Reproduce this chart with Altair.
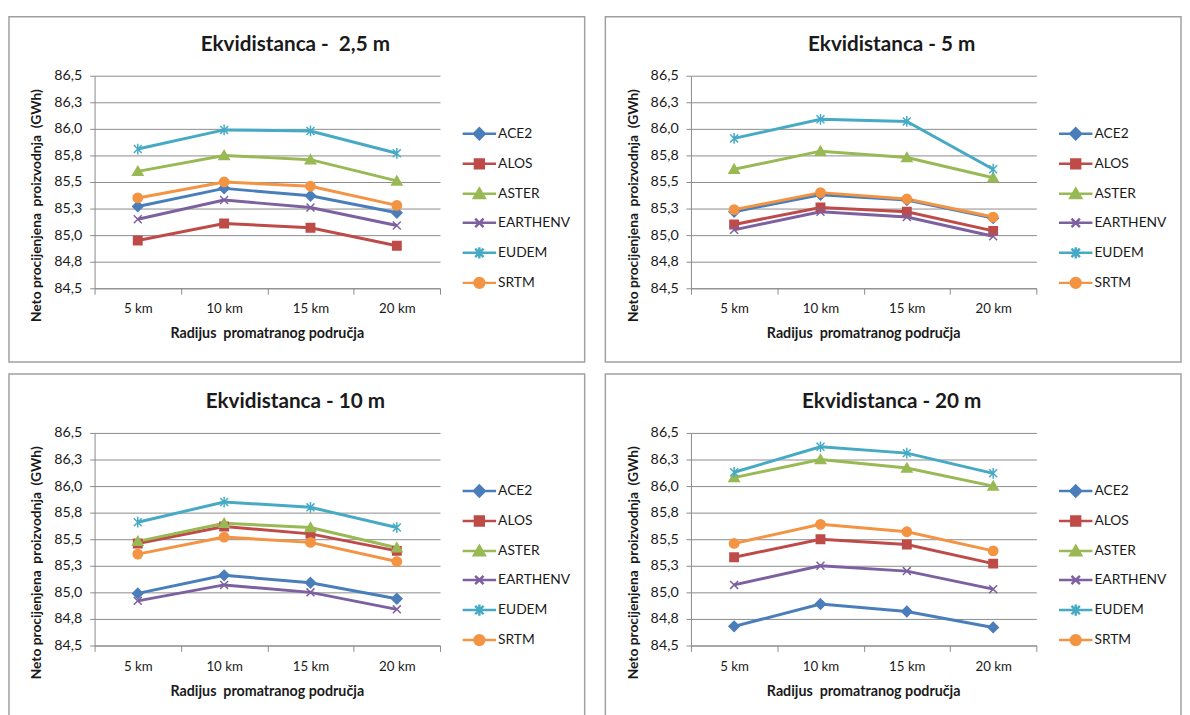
import altair as alt
import pandas as pd

# ---------------- data ----------------
categories = ["5 km", "10 km", "15 km", "20 km"]
series_names = ["ACE2", "ALOS", "ASTER", "EARTHENV", "EUDEM", "SRTM"]
panel_titles = ["Ekvidistanca -\u00a0 2,5 m", "Ekvidistanca - 5 m",
                "Ekvidistanca - 10 m", "Ekvidistanca - 20 m"]
x_title = "Radijus\u00a0 promatranog područja"
y_title = "Neto procijenjena\u00a0 proizvodnja\u00a0 (GWh)"
y_ticks = [84.5, 84.75, 85.0, 85.25, 85.5, 85.75, 86.0, 86.25, 86.5]

# Ekvidistanca 2,5 m
p1_ace2 = [85.27, 85.44, 85.37, 85.21]
p1_alos = [84.95, 85.11, 85.07, 84.90]
p1_aster = [85.60, 85.75, 85.71, 85.51]
p1_earthenv = [85.15, 85.33, 85.26, 85.09]
p1_eudem = [85.81, 85.99, 85.98, 85.77]
p1_srtm = [85.35, 85.50, 85.46, 85.28]

# Ekvidistanca 5 m
p2_ace2 = [85.22, 85.38, 85.33, 85.16]
p2_alos = [85.10, 85.26, 85.22, 85.04]
p2_aster = [85.62, 85.79, 85.73, 85.54]
p2_earthenv = [85.05, 85.22, 85.17, 84.99]
p2_eudem = [85.91, 86.09, 86.07, 85.62]
p2_srtm = [85.24, 85.40, 85.34, 85.17]

# Ekvidistanca 10 m
p3_ace2 = [84.99, 85.16, 85.09, 84.94]
p3_alos = [85.46, 85.62, 85.55, 85.39]
p3_aster = [85.48, 85.65, 85.61, 85.42]
p3_earthenv = [84.92, 85.07, 85.00, 84.84]
p3_eudem = [85.66, 85.85, 85.80, 85.61]
p3_srtm = [85.36, 85.52, 85.47, 85.29]

# Ekvidistanca 20 m
p4_ace2 = [84.68, 84.89, 84.82, 84.67]
p4_alos = [85.33, 85.50, 85.45, 85.27]
p4_aster = [86.08, 86.25, 86.17, 86.00]
p4_earthenv = [85.07, 85.25, 85.20, 85.03]
p4_eudem = [86.13, 86.37, 86.31, 86.12]
p4_srtm = [85.46, 85.64, 85.57, 85.39]

panels = [
    [p1_ace2, p1_alos, p1_aster, p1_earthenv, p1_eudem, p1_srtm],
    [p2_ace2, p2_alos, p2_aster, p2_earthenv, p2_eudem, p2_srtm],
    [p3_ace2, p3_alos, p3_aster, p3_earthenv, p3_eudem, p3_srtm],
    [p4_ace2, p4_alos, p4_aster, p4_earthenv, p4_eudem, p4_srtm],
]

# ---------------- styles ----------------
colors = ["#4A7EBB", "#BE4B48", "#98B954", "#7D60A0", "#46AAC5", "#F39443"]
marker_paths = [
    "M0,-1.1L1.1,0L0,1.1L-1.1,0Z",                      # diamond
    "M-0.9,-0.9L0.9,-0.9L0.9,0.9L-0.9,0.9Z",            # square
    "M0,-1.05L1.1,0.85L-1.1,0.85Z",                     # triangle
    "M-0.85,-0.85L0.85,0.85M-0.85,0.85L0.85,-0.85",     # x
    "M-0.85,-0.85L0.85,0.85M-0.85,0.85L0.85,-0.85M0,-1.15L0,1.15",  # asterisk
    "M-1,0C-1,-0.552 -0.552,-1 0,-1C0.552,-1 1,-0.552 1,0C1,0.552 0.552,1 0,1C-0.552,1 -1,0.552 -1,0Z",  # circle
]
legend_line = "M-3.4,0L3.4,0"
FONT = "Lato"
GRID = "#8a8a8a"
TXT = "#1a1a1a"
PLOT_W, PLOT_H = 351, 216


def ternary(values):
    expr = "'" + values[-1] + "'"
    for name, v in reversed(list(zip(series_names[:-1], values[:-1]))):
        expr = "datum.value === '" + name + "' ? '" + v + "' : " + expr
    return expr


legend_shape_expr = ternary([legend_line + p for p in marker_paths])
legend_color_expr = ternary(colors)


def make_panel(i):
    rows = []
    for s, vals in zip(series_names, panels[i]):
        for c, v in zip(categories, vals):
            rows.append({"km": c, "series": s, "mk": s, "value": v})
    df = pd.DataFrame(rows)

    legend = alt.Legend(
        orient="none", legendX=384, legendY=52, title=None,
        labelFont=FONT, labelFontSize=14, labelColor=TXT,
        symbolSize=100, symbolStrokeWidth=2.5, labelOffset=12,
        rowPadding=9.5,
        symbolType=alt.ExprRef(expr=legend_shape_expr),
        symbolFillColor=alt.ExprRef(expr=legend_color_expr),
        symbolStrokeColor=alt.ExprRef(expr=legend_color_expr),
        symbolOpacity=1,
    )
    color_scale = alt.Scale(domain=series_names, range=colors)

    x = alt.X("km:N", sort=categories, title=None,
              scale=alt.Scale(type="band", paddingInner=0, paddingOuter=0),
              axis=alt.Axis(tickBand="extent", labelAngle=0, labelFont=FONT,
                            labelFontSize=13.5, labelColor=TXT,
                            tickSize=6, labelPadding=8, domainColor=GRID,
                            tickColor=GRID, grid=False))
    y = alt.Y("value:Q", title=None,
              scale=alt.Scale(domain=[84.5, 86.5], nice=False, zero=False),
              axis=alt.Axis(values=y_ticks,
                            labelExpr="replace(format(datum.value, '.1f'), '.', ',')",
                            labelFont=FONT, labelFontSize=14.5, labelColor=TXT,
                            tickSize=5, labelPadding=8, domainColor=GRID,
                            tickColor=GRID, grid=True, gridColor=GRID))

    frame = alt.Chart(pd.DataFrame({"f": [0]})).mark_rect(
        filled=False, stroke="#a0a0a0", strokeWidth=1.5
    ).encode(x=alt.value(-87), x2=alt.value(498),
             y=alt.value(-60), y2=alt.value(291))

    texts = pd.DataFrame({"t": [panel_titles[i]], "xt": [x_title], "yt": [y_title]})
    title = alt.Chart(texts).mark_text(
        font=FONT, fontSize=21, fontWeight="bold", color=TXT,
        align="center", baseline="middle"
    ).encode(x=alt.value(204), y=alt.value(-31), text="t:N")
    xtitle = alt.Chart(texts).mark_text(
        font=FONT, fontSize=14.5, fontWeight="bold", color=TXT,
        align="center", baseline="middle"
    ).encode(x=alt.value(PLOT_W / 2), y=alt.value(PLOT_H + 47), text="xt:N")
    ytitle = alt.Chart(texts).mark_text(
        font=FONT, fontSize=14, fontWeight="bold", color=TXT,
        align="center", baseline="middle", angle=270
    ).encode(x=alt.value(-58), y=alt.value(132), text="yt:N")

    lines = alt.Chart(df).mark_line(strokeWidth=3).encode(
        x=x, y=y,
        color=alt.Color("series:N", scale=color_scale, legend=legend),
        detail="series:N",
    )
    points = alt.Chart(df).mark_point(filled=True, size=90, opacity=1).encode(
        x=x, y=y,
        color=alt.Color("series:N", scale=color_scale, legend=legend),
        stroke=alt.Stroke("mk:N", scale=alt.Scale(range=colors), legend=None),
        shape=alt.Shape("mk:N", scale=alt.Scale(range=marker_paths), legend=None),
        strokeWidth=alt.value(1.5),
    )
    return alt.layer(frame, lines, points, title, xtitle, ytitle).properties(
        width=PLOT_W, height=PLOT_H)


res = dict(color="independent", stroke="independent", shape="independent",
           x="independent", y="independent")
row1 = alt.hconcat(make_panel(0), make_panel(1), spacing=19).resolve_scale(**res)
row2 = alt.hconcat(make_panel(2), make_panel(3), spacing=19).resolve_scale(**res)
chart = alt.vconcat(row1, row2, spacing=10).resolve_scale(**res).properties(
    padding={"top": 2, "left": 0, "right": 0, "bottom": 0},
    background="white",
).configure_view(stroke=None)

chart.save("out.html", embed_options={"renderer": "svg", "actions": False})
